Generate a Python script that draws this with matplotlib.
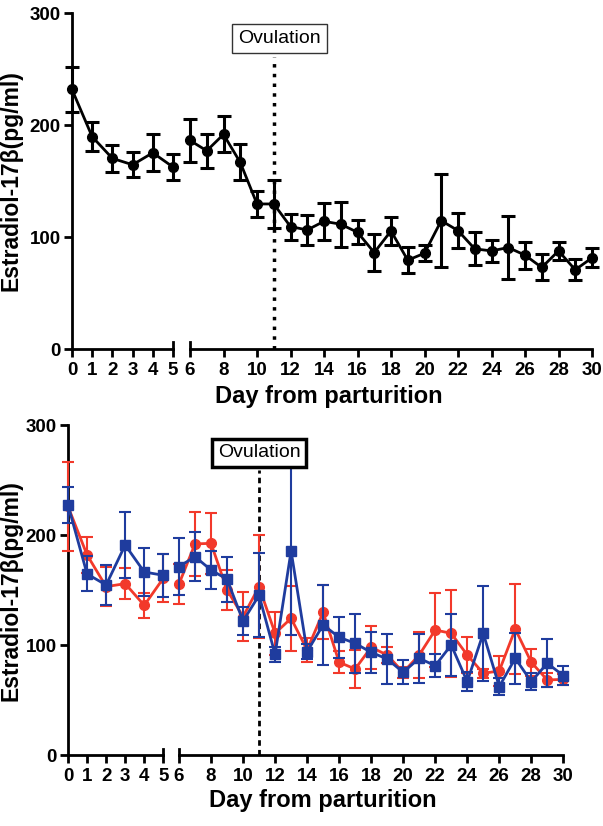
import numpy as np
import matplotlib
matplotlib.use('Agg')
import matplotlib.pyplot as plt
from matplotlib.transforms import blended_transform_factory

plt.rcParams['font.family'] = ['Liberation Sans', 'DejaVu Sans']

# Data
days = np.arange(0, 31)

all_mean = [231.7, 189.5, 170.2, 164.5, 175.2, 162.5, 186.2, 177.0, 191.6, 166.6,
            129.5, 129.5, 109.3, 106.3, 114.0, 111.4, 104.2, 86.1, 105.4, 79.3,
            85.5, 114.6, 105.7, 89.4, 87.6, 90.6, 83.8, 72.8, 87.6, 70.7, 81.4]
all_sem = [20.0, 13.0, 12.0, 11.2, 16.5, 11.7, 19.2, 15.3, 16.0, 16.0,
           11.8, 21.3, 11.6, 13.7, 16.4, 19.9, 10.7, 16.2, 12.2, 11.8,
           7.1, 41.6, 15.3, 14.7, 9.8, 28.5, 12.0, 11.6, 8.2, 9.5, 8.6]

red_mean = [226.0, 182.0, 153.2, 155.9, 136.2, 160.8, 155.6, 192.0, 192.5, 150.2,
            126.0, 153.2, 110.8, 124.4, 95.7, 129.9, 84.5, 78.4, 98.1, 91.1,
            75.4, 91.1, 113.8, 110.8, 91.1, 74.5, 76.6, 114.7, 84.5, 68.4, 69.0]
red_sem = [40.0, 16.0, 18.0, 14.0, 11.4, 22.0, 18.0, 29.0, 28.0, 18.5,
           22.3, 46.6, 19.7, 29.6, 10.9, 24.5, 9.9, 17.5, 19.4, 7.1,
           5.0, 20.5, 33.6, 39.4, 16.7, 4.0, 14.0, 41.3, 12.1, 6.0, 4.7]

blue_mean = [227.4, 164.7, 154.7, 191.0, 166.5, 163.5, 171.4, 180.4, 168.3, 159.9,
             122.0, 145.3, 91.7, 185.6, 94.2, 118.4, 107.2, 101.7, 93.5, 87.5,
             75.4, 88.1, 81.4, 100.2, 66.9, 110.8, 62.4, 88.1, 66.9, 83.6, 72.4]
blue_sem = [16.0, 15.9, 17.9, 30.0, 21.5, 19.7, 25.9, 22.5, 17.0, 20.4,
            13.0, 38.3, 6.8, 76.0, 6.8, 36.6, 18.5, 26.5, 18.6, 22.4,
            10.9, 22.1, 10.6, 28.5, 8.8, 43.2, 7.9, 23.0, 7.6, 21.8, 8.3]

ovulation_day = 11
RED = '#f2392b'
BLUE = '#1f3c9e'

W, H = 603, 826
fig = plt.figure(figsize=(W / 100, H / 100), dpi=100)


def px_axes(x0, x1, y_top, y_bot):
    return fig.add_axes([x0 / W, 1 - y_bot / H, (x1 - x0) / W, (y_bot - y_top) / H])


def style_pair(axl, axr, lw):
    for ax in (axl, axr):
        ax.set_ylim(0, 300)
        for s in ('top', 'right'):
            ax.spines[s].set_visible(False)
        ax.spines['bottom'].set_linewidth(lw)
        ax.tick_params(axis='x', length=6, width=lw, labelsize=13.5, pad=3)
        ax.patch.set_visible(False)
    axl.spines['left'].set_linewidth(lw)
    axl.set_xlim(0, 5)
    axl.set_xticks(range(0, 6))
    axl.set_yticks([0, 100, 200, 300])
    axl.tick_params(axis='y', length=6, width=lw, labelsize=13.5, pad=2)
    axr.spines['left'].set_visible(False)
    axr.set_xlim(6, 30)
    axr.set_xticks(range(6, 31, 2))
    axr.set_yticks([])
    for ax in (axl, axr):
        for lab in ax.get_xticklabels() + ax.get_yticklabels():
            lab.set_fontweight('bold')
    # break marks crossing the axis
    for ax, x in ((axl, 5), (axr, 6)):
        tr = blended_transform_factory(ax.transData, ax.transAxes)
        ax.plot([x, x], [0, 0.02], transform=tr, color='black', lw=lw, clip_on=False)


# ---------- top panel ----------
ax1 = px_axes(72, 173, 13, 349)
ax2 = px_axes(190, 592, 13, 349)
style_pair(ax1, ax2, 2)

for ax, sl in ((ax1, slice(0, 6)), (ax2, slice(6, 31))):
    ax.errorbar(days[sl], all_mean[sl], yerr=all_sem[sl], color='black', lw=2,
                marker='o', ms=7, elinewidth=2.2, capsize=5, capthick=2.2,
                clip_on=False, zorder=3)

ax2.vlines(ovulation_day, 0, 261, colors='black', lw=2.5, linestyles=(0, (1, 1.8)))
ax2.text(ovulation_day + 0.35, 277.5, 'Ovulation', ha='center', va='center', fontsize=14,
         bbox=dict(boxstyle='square,pad=0.3', fc='white', ec='#333333', lw=1))
ax1.set_ylabel('Estradiol-17β(pg/ml)', fontsize=16.5, fontweight='bold', labelpad=5)
fig.text(329 / W, 1 - 396 / H, 'Day from parturition', ha='center', va='center',
         fontsize=17, fontweight='bold')

# ---------- bottom panel ----------
ax3 = px_axes(68, 163.3, 425, 755.3)
ax4 = px_axes(179, 563.3, 425, 755.3)
style_pair(ax3, ax4, 2)

for ax, sl in ((ax3, slice(0, 6)), (ax4, slice(6, 31))):
    ax.errorbar(days[sl], red_mean[sl], yerr=red_sem[sl], color=RED, lw=2,
                marker='o', ms=7, elinewidth=1.5, capsize=4, capthick=1.5,
                clip_on=False, zorder=3)
    ax.errorbar(days[sl], blue_mean[sl], yerr=blue_sem[sl], color=BLUE, lw=2,
                marker='s', ms=7, elinewidth=1.5, capsize=4, capthick=1.5,
                clip_on=False, zorder=4)

ax4.vlines(ovulation_day, 0, 259, colors='black', lw=2, linestyles=(0, (2, 1.5)), zorder=2)
ax4.text(ovulation_day, 274.6, 'Ovulation', ha='center', va='center', fontsize=14,
         bbox=dict(boxstyle='square,pad=0.3', fc='white', ec='black', lw=2.5), zorder=5)
ax3.set_ylabel('Estradiol-17β(pg/ml)', fontsize=16.5, fontweight='bold', labelpad=2)
fig.text(323 / W, 1 - 801 / H, 'Day from parturition', ha='center', va='center',
         fontsize=17, fontweight='bold')

fig.savefig('out.png', dpi=100)
